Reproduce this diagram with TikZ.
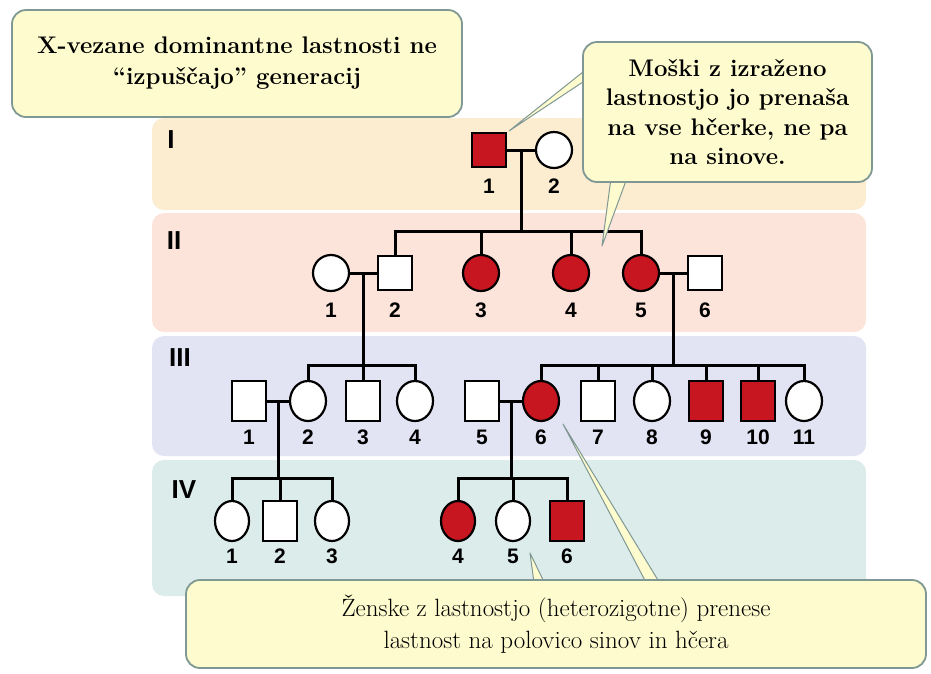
\documentclass[tikz,border=0pt]{standalone}
\usepackage{fontspec}
\setsansfont{Liberation Sans}
\usetikzlibrary{shapes.geometric}
\usetikzlibrary{calc}
\usepackage{xcolor}

\definecolor{bandI}{RGB}{252,236,208}
\definecolor{bandII}{RGB}{252,228,218}
\definecolor{bandIII}{RGB}{226,227,243}
\definecolor{bandIV}{RGB}{220,236,235}
\definecolor{affred}{RGB}{200,22,32}
\definecolor{boxfill}{RGB}{254,252,206}
\definecolor{boxline}{RGB}{128,152,148}

\begin{document}
\begin{tikzpicture}[x=1pt,y=-1pt,
  male/.style={draw,rectangle,line width=2.2pt,inner sep=0pt,minimum width=34pt,minimum height=34pt,fill=white},
  female/.style={draw,ellipse,line width=2.2pt,inner sep=0pt,minimum width=36pt,minimum height=36pt,fill=white},
  aff/.style={fill=affred},
  tall/.style={minimum height=40pt},
  num/.style={font=\sffamily\bfseries\fontsize{21}{21}\selectfont,inner sep=1pt},
  gen/.style={font=\sffamily\bfseries\fontsize{26}{26}\selectfont,inner sep=0pt},
  pline/.style={line width=3pt},
  callout/.style={draw=boxline,line width=1.8pt,fill=boxfill,rounded corners=14pt,align=center,inner sep=0pt},
  pointer/.style={fill=boxfill,draw=boxline,line width=1pt,line join=round}]

  \useasboundingbox (0,0) rectangle (931,673);

  % generation bands
  \fill[bandI,rounded corners=12pt] (152,118) rectangle (866,210);
  \fill[bandII,rounded corners=12pt] (152,213) rectangle (866,332);
  \fill[bandIII,rounded corners=12pt] (152,336) rectangle (866,456);
  \fill[bandIV,rounded corners=12pt] (152,460) rectangle (866,596);

  \node[gen] (gI) at (171,140) {I};
  \node[gen] (gII) at (174,241) {II};
  \node[gen] (gIII) at (180,358) {III};
  \node[gen] (gIV) at (184,490) {IV};

  % generation I
  \node[male,aff,label={[num,label distance=10pt]below:1}] (i1) at (489,150) {};
  \node[female,label={[num,label distance=9pt]below:2}] (i2) at (554,150) {};

  % generation II
  \node[female,label={[num,label distance=10pt]below:1}] (ii1) at (331,273) {};
  \node[male,label={[num,label distance=11pt]below:2}] (ii2) at (395,273) {};
  \node[female,aff,label={[num,label distance=10pt]below:3}] (ii3) at (481,273) {};
  \node[female,aff,label={[num,label distance=10pt]below:4}] (ii4) at (571,273) {};
  \node[female,aff,label={[num,label distance=10pt]below:5}] (ii5) at (641,273) {};
  \node[male,label={[num,label distance=11pt]below:6}] (ii6) at (705,273) {};

  % generation III
  \node[male,tall,label={[num,label distance=7pt]below:1}] (iii1) at (249,401) {};
  \node[female,tall,label={[num,label distance=7pt]below:2}] (iii2) at (308,401) {};
  \node[male,tall,label={[num,label distance=7pt]below:3}] (iii3) at (363,401) {};
  \node[female,tall,label={[num,label distance=7pt]below:4}] (iii4) at (415,401) {};
  \node[male,tall,label={[num,label distance=7pt]below:5}] (iii5) at (482,401) {};
  \node[female,tall,aff,label={[num,label distance=7pt]below:6}] (iii6) at (541,401) {};
  \node[male,tall,label={[num,label distance=7pt]below:7}] (iii7) at (598,401) {};
  \node[female,tall,label={[num,label distance=7pt]below:8}] (iii8) at (652,401) {};
  \node[male,tall,aff,label={[num,label distance=7pt]below:9}] (iii9) at (706,401) {};
  \node[male,tall,aff,label={[num,label distance=7pt]below:10}] (iii10) at (758,401) {};
  \node[female,tall,label={[num,label distance=7pt]below:11}] (iii11) at (804,401) {};

  % generation IV
  \node[female,tall,minimum width=34pt,label={[num,label distance=6pt]below:1}] (iv1) at (232,521) {};
  \node[male,tall,label={[num,label distance=6pt]below:2}] (iv2) at (280,521) {};
  \node[female,tall,minimum width=34pt,label={[num,label distance=6pt]below:3}] (iv3) at (332,521) {};
  \node[female,tall,minimum width=34pt,aff,label={[num,label distance=6pt]below:4}] (iv4) at (458,521) {};
  \node[female,tall,minimum width=34pt,label={[num,label distance=6pt]below:5}] (iv5) at (513,521) {};
  \node[male,tall,aff,label={[num,label distance=6pt]below:6}] (iv6) at (567,521) {};

  % marriages and descents
  \coordinate (sib2) at (0,231);
  \coordinate (sib3) at (0,365);
  \coordinate (sib4) at (0,478);
  \coordinate (m1) at ($(i1.east)!0.5!(i2.west)$);
  \coordinate (m2) at ($(ii1.east)!0.5!(ii2.west)$);
  \coordinate (m3) at ($(ii5.east)!0.5!(ii6.west)$);
  \coordinate (m4) at ($(iii1.east)!0.5!(iii2.west)$);
  \coordinate (m5) at ($(iii5.east)!0.5!(iii6.west)$);

  \draw[pline] (i1) -- (i2);
  \draw[pline] (m1) -- (m1 |- sib2);
  \draw[pline] (ii2.north) -- (ii2.north |- sib2) -- (ii5.north |- sib2) -- (ii5.north);
  \draw[pline] (ii3.north) -- (ii3.north |- sib2);
  \draw[pline] (ii4.north) -- (ii4.north |- sib2);

  \draw[pline] (ii1) -- (ii2);
  \draw[pline] (m2) -- (m2 |- sib3);
  \draw[pline] (iii2.north) -- (iii2.north |- sib3) -- (iii4.north |- sib3) -- (iii4.north);
  \draw[pline] (iii3.north) -- (iii3.north |- sib3);

  \draw[pline] (ii5) -- (ii6);
  \draw[pline] (m3) -- (m3 |- sib3);
  \draw[pline] (iii6.north) -- (iii6.north |- sib3) -- (iii11.north |- sib3) -- (iii11.north);
  \draw[pline] (iii7.north) -- (iii7.north |- sib3);
  \draw[pline] (iii8.north) -- (iii8.north |- sib3);
  \draw[pline] (iii9.north) -- (iii9.north |- sib3);
  \draw[pline] (iii10.north) -- (iii10.north |- sib3);

  \draw[pline] (iii1) -- (iii2);
  \draw[pline] (m4) -- (m4 |- sib4);
  \draw[pline] (iv1.north) -- (iv1.north |- sib4) -- (iv3.north |- sib4) -- (iv3.north);
  \draw[pline] (iv2.north) -- (iv2.north |- sib4);

  \draw[pline] (iii5) -- (iii6);
  \draw[pline] (m5) -- (m5 |- sib4);
  \draw[pline] (iv4.north) -- (iv4.north |- sib4) -- (iv6.north |- sib4) -- (iv6.north);
  \draw[pline] (iv5.north) -- (iv5.north |- sib4);

  % callout pointers
  \coordinate (tipA) at ($(i1.north east)+(2,-1)$);
  \coordinate (tipB) at (602,246);
  \coordinate (tipC) at (530,553);
  \coordinate (tipD) at (563,424);
  \draw[pointer] (tipA) -- (598,60) -- (598,72) -- cycle;
  \draw[pointer] (tipB) -- (611,178) -- (627,178) -- cycle;
  \draw[pointer] (tipC) -- (535,590) -- (548,590) -- cycle;
  \draw[pointer] (tipD) -- (650,590) -- (664,590) -- cycle;

  % callout boxes
  \node[callout,minimum width=450pt,minimum height=107pt,
        font=\bfseries\fontsize{24}{31}\selectfont] (noteA) at (237,63.5)
        {X-vezane dominantne lastnosti ne\\“izpuščajo” generacij};
  \node[callout,minimum width=289pt,minimum height=140pt,
        font=\bfseries\fontsize{24}{29.5}\selectfont] (noteB) at (727.5,112)
        {Moški z izraženo\\lastnostjo jo prenaša\\na vse hčerke, ne pa\\na sinove.};
  \node[callout,minimum width=740pt,minimum height=88pt,
        font=\fontsize{25}{32}\selectfont] (noteC) at (556,624)
        {Ženske z lastnostjo (heterozigotne) prenese\\lastnost na polovico sinov in hčera};

\end{tikzpicture}
\end{document}
